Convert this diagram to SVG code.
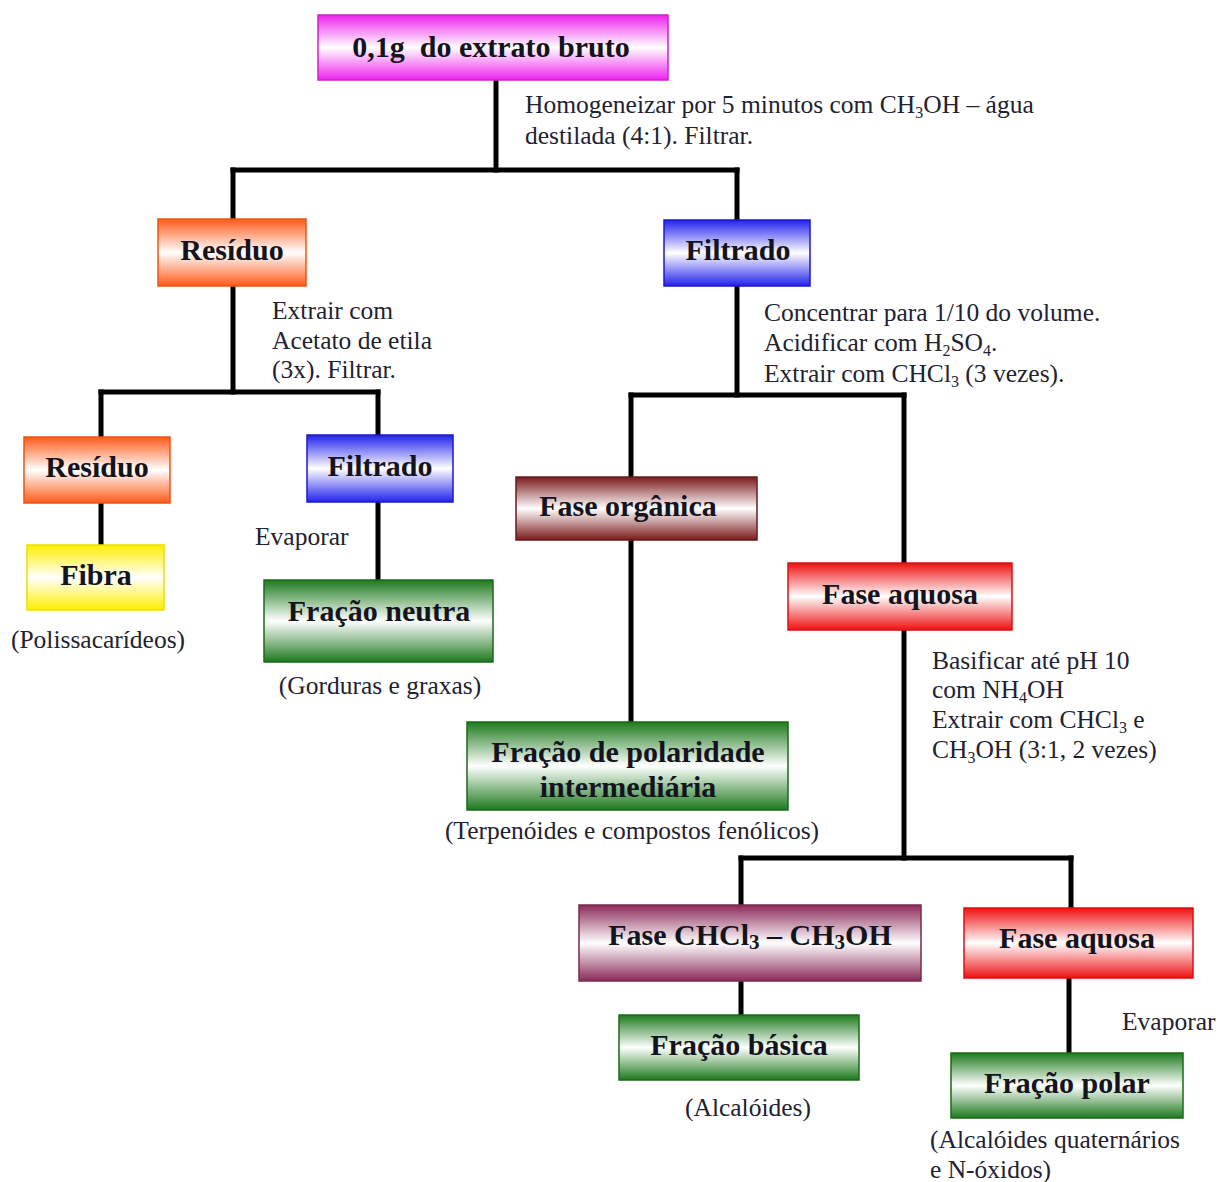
<svg xmlns="http://www.w3.org/2000/svg" width="1222" height="1182" viewBox="0 0 1222 1182">
<defs>
<linearGradient id="gMag" x1="0" y1="0" x2="0" y2="1"><stop offset="0" stop-color="#ee22ee"/><stop offset="0.5" stop-color="#ffffff"/><stop offset="1" stop-color="#ee22ee"/></linearGradient>
<linearGradient id="gOra" x1="0" y1="0" x2="0" y2="1"><stop offset="0" stop-color="#ff5a1a"/><stop offset="0.5" stop-color="#ffffff"/><stop offset="1" stop-color="#ff5a1a"/></linearGradient>
<linearGradient id="gBlu" x1="0" y1="0" x2="0" y2="1"><stop offset="0" stop-color="#2222ee"/><stop offset="0.5" stop-color="#ffffff"/><stop offset="1" stop-color="#2222ee"/></linearGradient>
<linearGradient id="gYel" x1="0" y1="0" x2="0" y2="1"><stop offset="0" stop-color="#ffee00"/><stop offset="0.5" stop-color="#ffffff"/><stop offset="1" stop-color="#ffee00"/></linearGradient>
<linearGradient id="gGrn" x1="0" y1="0" x2="0" y2="1"><stop offset="0" stop-color="#1e7a1e"/><stop offset="0.5" stop-color="#ffffff"/><stop offset="1" stop-color="#1e7a1e"/></linearGradient>
<linearGradient id="gMar" x1="0" y1="0" x2="0" y2="1"><stop offset="0" stop-color="#7a1a1a"/><stop offset="0.5" stop-color="#ffffff"/><stop offset="1" stop-color="#7a1a1a"/></linearGradient>
<linearGradient id="gRed" x1="0" y1="0" x2="0" y2="1"><stop offset="0" stop-color="#ee1111"/><stop offset="0.5" stop-color="#ffffff"/><stop offset="1" stop-color="#ee1111"/></linearGradient>
<linearGradient id="gPur" x1="0" y1="0" x2="0" y2="1"><stop offset="0" stop-color="#8b2a5a"/><stop offset="0.5" stop-color="#ffffff"/><stop offset="1" stop-color="#8b2a5a"/></linearGradient>
</defs>
<style>
.lbl{font-family:"Liberation Serif","Times New Roman",serif;font-weight:bold;font-size:30px;fill:#141420;text-anchor:middle}
.ann{font-family:"Liberation Serif","Times New Roman",serif;font-size:25.5px;fill:#222230}
.sub{font-size:16px}
.conn line{stroke:#000;stroke-width:5;stroke-linecap:square}
.mag{fill:url(#gMag);stroke:#cc22cc;stroke-width:1.5}
.ora{fill:url(#gOra);stroke:#ee5511;stroke-width:1.5}
.blu{fill:url(#gBlu);stroke:#1a1acc;stroke-width:1.5}
.yel{fill:url(#gYel);stroke:#eedd00;stroke-width:1.5}
.grn{fill:url(#gGrn);stroke:#1a6a1a;stroke-width:1.5}
.mar{fill:url(#gMar);stroke:#6a1a1a;stroke-width:1.5}
.red{fill:url(#gRed);stroke:#dd1111;stroke-width:1.5}
.pur{fill:url(#gPur);stroke:#7a2a50;stroke-width:1.5}
</style>
<rect width="1222" height="1182" fill="#ffffff"/>

<g id="connectors" class="conn">
<line x1="496" y1="80" x2="496" y2="170"/>
<line x1="233" y1="170" x2="737" y2="170"/>
<line x1="233" y1="170" x2="233" y2="219"/>
<line x1="737" y1="170" x2="737" y2="220"/>
<line x1="233" y1="286" x2="233" y2="392"/>
<line x1="101" y1="392" x2="378" y2="392"/>
<line x1="101" y1="392" x2="101" y2="437"/>
<line x1="378" y1="392" x2="378" y2="435"/>
<line x1="101" y1="503" x2="101" y2="545"/>
<line x1="378" y1="502" x2="378" y2="580"/>
<line x1="737" y1="286" x2="737" y2="395"/>
<line x1="631" y1="395" x2="904" y2="395"/>
<line x1="631" y1="395" x2="631" y2="477"/>
<line x1="631" y1="540" x2="631" y2="722"/>
<line x1="904" y1="395" x2="904" y2="563"/>
<line x1="904" y1="630" x2="904" y2="858"/>
<line x1="741" y1="858" x2="1071" y2="858"/>
<line x1="741" y1="858" x2="741" y2="905"/>
<line x1="741" y1="981" x2="741" y2="1015"/>
<line x1="1071" y1="858" x2="1071" y2="908"/>
<line x1="1069" y1="978" x2="1069" y2="1053"/>
</g>

<g id="n-extrato"><rect class="mag" x="318" y="15" width="350" height="65"/><text class="lbl" x="491" y="57" xml:space="preserve">0,1g  do extrato bruto</text></g>
<g id="a-homog"><text class="ann" x="525" y="113">Homogeneizar por 5 minutos com CH<tspan class="sub" dy="5">3</tspan><tspan dy="-5">OH – água</tspan></text><text class="ann" x="525" y="144">destilada (4:1). Filtrar.</text></g>

<g id="n-residuo1"><rect class="ora" x="158" y="219" width="148" height="67"/><text class="lbl" x="232" y="260">Resíduo</text></g>
<g id="n-filtrado1"><rect class="blu" x="664" y="220" width="146" height="66"/><text class="lbl" x="738" y="260">Filtrado</text></g>

<g id="a-extrair1"><text class="ann" x="272" y="319">Extrair com</text><text class="ann" x="272" y="349">Acetato de etila</text><text class="ann" x="272" y="378">(3x). Filtrar.</text></g>

<g id="n-residuo2"><rect class="ora" x="24" y="437" width="146" height="66"/><text class="lbl" x="97" y="477">Resíduo</text></g>
<g id="n-fibra"><rect class="yel" x="27" y="545" width="137" height="65"/><text class="lbl" x="96" y="585">Fibra</text></g>
<g id="t-polis"><text class="ann" x="98" y="648" text-anchor="middle">(Polissacarídeos)</text></g>

<g id="n-filtrado2"><rect class="blu" x="307" y="435" width="146" height="67"/><text class="lbl" x="380" y="476">Filtrado</text></g>
<g id="a-evap1"><text class="ann" x="255" y="545">Evaporar</text></g>
<g id="n-neutra"><rect class="grn" x="264" y="580" width="229" height="82"/><text class="lbl" x="379" y="621">Fração neutra</text></g>
<g id="t-gord"><text class="ann" x="380" y="694" text-anchor="middle">(Gorduras e graxas)</text></g>

<g id="a-concentrar"><text class="ann" x="764" y="321">Concentrar para 1/10 do volume.</text><text class="ann" x="764" y="351">Acidificar com H<tspan class="sub" dy="5">2</tspan><tspan dy="-5">SO</tspan><tspan class="sub" dy="5">4</tspan><tspan dy="-5">.</tspan></text><text class="ann" x="764" y="382">Extrair com CHCl<tspan class="sub" dy="5">3</tspan><tspan dy="-5"> (3 vezes).</tspan></text></g>

<g id="n-organica"><rect class="mar" x="516" y="477" width="241" height="63"/><text class="lbl" x="628" y="516">Fase orgânica</text></g>
<g id="n-intermediaria"><rect class="grn" x="467" y="722" width="321" height="88"/><text class="lbl" x="628" y="762">Fração de polaridade</text><text class="lbl" x="628" y="797">intermediária</text></g>
<g id="t-terp"><text class="ann" x="632" y="839" text-anchor="middle">(Terpenóides e compostos fenólicos)</text></g>

<g id="n-aquosa1"><rect class="red" x="788" y="563" width="224" height="67"/><text class="lbl" x="900" y="604">Fase aquosa</text></g>
<g id="a-basificar"><text class="ann" x="932" y="669">Basificar até pH 10</text><text class="ann" x="932" y="698">com NH<tspan class="sub" dy="5">4</tspan><tspan dy="-5">OH</tspan></text><text class="ann" x="932" y="728">Extrair com CHCl<tspan class="sub" dy="5">3</tspan><tspan dy="-5"> e</tspan></text><text class="ann" x="932" y="758">CH<tspan class="sub" dy="5">3</tspan><tspan dy="-5">OH (3:1, 2 vezes)</tspan></text></g>

<g id="n-chcl3"><rect class="pur" x="579" y="905" width="342" height="76"/><text class="lbl" x="750" y="945">Fase CHCl<tspan style="font-size:21px" dy="4">3</tspan><tspan dy="-4"> – CH</tspan><tspan style="font-size:21px" dy="4">3</tspan><tspan dy="-4">OH</tspan></text></g>
<g id="n-basica"><rect class="grn" x="619" y="1015" width="240" height="65"/><text class="lbl" x="739" y="1055">Fração básica</text></g>
<g id="t-alc"><text class="ann" x="748" y="1116" text-anchor="middle">(Alcalóides)</text></g>

<g id="n-aquosa2"><rect class="red" x="964" y="908" width="229" height="70"/><text class="lbl" x="1077" y="948">Fase aquosa</text></g>
<g id="a-evap2"><text class="ann" x="1122" y="1030">Evaporar</text></g>
<g id="n-polar"><rect class="grn" x="951" y="1053" width="232" height="65"/><text class="lbl" x="1067" y="1093">Fração polar</text></g>
<g id="t-quat"><text class="ann" x="930" y="1148">(Alcalóides quaternários</text><text class="ann" x="930" y="1178">e N-óxidos)</text></g>
</svg>
